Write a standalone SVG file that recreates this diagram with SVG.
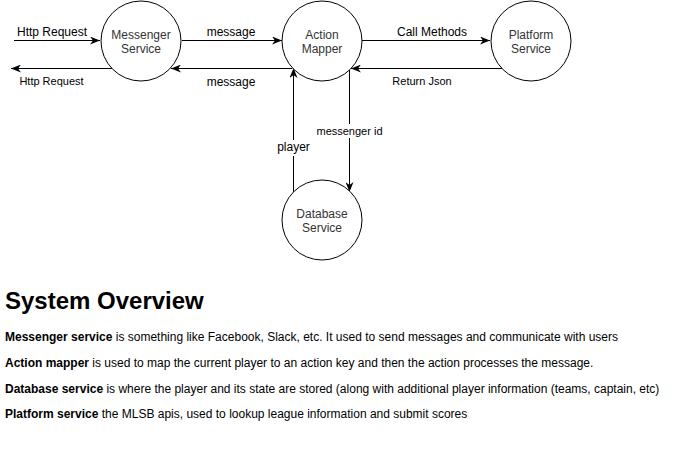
<svg xmlns="http://www.w3.org/2000/svg" width="691" height="462" viewBox="0 0 691 462">
<style>
.node{fill:#fff;stroke:#000;stroke-width:1}
.edge{fill:none;stroke:#000;stroke-width:1}
.t{font-family:"Liberation Sans",Arial,sans-serif;font-size:12px;fill:#333}
.s{font-family:"Liberation Sans",Arial,sans-serif;font-size:11px;fill:#000}
.m{text-anchor:middle}
.lbl{fill:#fff}
.h{font-family:"Liberation Sans",Arial,sans-serif;font-size:24px;font-weight:bold;fill:#000}
.p{font-family:"Liberation Sans",Arial,sans-serif;font-size:12px;fill:#000}
</style>
<defs>
<marker id="arr" viewBox="0 0 10 8" refX="10" refY="4" markerWidth="10" markerHeight="8" markerUnits="userSpaceOnUse" orient="auto">
<path d="M0,0 L10,4 L0,8 L3,4 z" fill="#000"/>
</marker>
</defs>
<rect width="691" height="462" fill="#fff"/>
<g id="connectors">
<line class="edge" x1="14" y1="40.5" x2="100" y2="40.5" marker-end="url(#arr)"/>
<line class="edge" x1="112" y1="68.5" x2="11" y2="68.5" marker-end="url(#arr)"/>
<line class="edge" x1="182" y1="40.5" x2="282" y2="40.5" marker-end="url(#arr)"/>
<line class="edge" x1="292" y1="68.5" x2="171" y2="68.5" marker-end="url(#arr)"/>
<line class="edge" x1="362" y1="40.5" x2="490" y2="40.5" marker-end="url(#arr)"/>
<line class="edge" x1="502" y1="68.5" x2="351" y2="68.5" marker-end="url(#arr)"/>
<line class="edge" x1="293.5" y1="192" x2="293.5" y2="68" marker-end="url(#arr)"/>
<line class="edge" x1="349.5" y1="69" x2="349.5" y2="192" marker-end="url(#arr)"/>
<text class="t" x="52" y="36" text-anchor="middle" fill="#000" style="fill:#000">Http Request</text>
<text class="s" x="51.5" y="85" text-anchor="middle">Http Request</text>
<text class="t m" x="231" y="36" style="fill:#000">message</text>
<text class="t m" x="231" y="86" style="fill:#000">message</text>
<text class="t m" x="432" y="36" style="fill:#000">Call Methods</text>
<text class="s m" x="422" y="85">Return Json</text>
<rect class="lbl" x="315" y="124" width="69" height="14"/>
<text class="s m" x="349.5" y="135">messenger id</text>
<rect class="lbl" x="276" y="140" width="36" height="16"/>
<text class="t m" x="293.5" y="151" style="fill:#000">player</text>
</g>
<g id="messenger">
<circle class="node" cx="141" cy="41" r="40"/>
<text class="t m" x="141" y="39">Messenger</text>
<text class="t m" x="141" y="53">Service</text>
</g>
<g id="mapper">
<circle class="node" cx="322" cy="41" r="40"/>
<text class="t m" x="322" y="39">Action</text>
<text class="t m" x="322" y="53">Mapper</text>
</g>
<g id="platform">
<circle class="node" cx="531" cy="41" r="40"/>
<text class="t m" x="531" y="39">Platform</text>
<text class="t m" x="531" y="53">Service</text>
</g>
<g id="database">
<circle class="node" cx="322" cy="220" r="40"/>
<text class="t m" x="322" y="218">Database</text>
<text class="t m" x="322" y="232">Service</text>
</g>
<g id="overview">
<text class="h" x="5" y="309">System Overview</text>
<text class="p" x="5" y="341"><tspan font-weight="bold">Messenger service</tspan> is something like Facebook, Slack, etc. It used to send messages and communicate with users</text>
<text class="p" x="5" y="367"><tspan font-weight="bold">Action mapper</tspan> is used to map the current player to an action key and then the action processes the message.</text>
<text class="p" x="5" y="393"><tspan font-weight="bold">Database service</tspan> is where the player and its state are stored (along with additional player information (teams, captain, etc)</text>
<text class="p" x="5" y="418"><tspan font-weight="bold">Platform service</tspan> the MLSB apis, used to lookup league information and submit scores</text>
</g>
</svg>
